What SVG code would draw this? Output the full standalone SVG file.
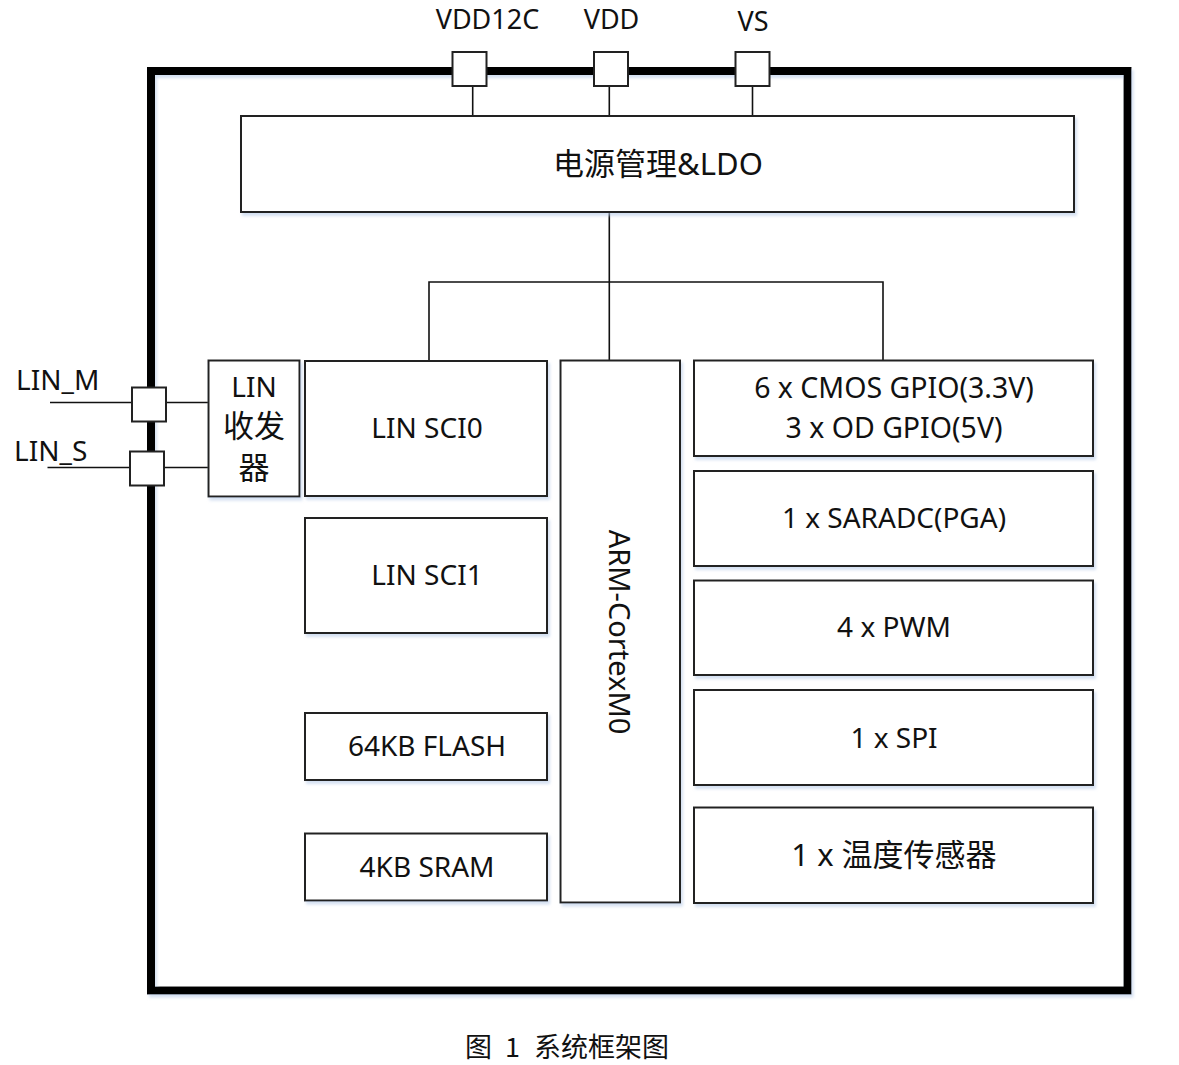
<svg xmlns="http://www.w3.org/2000/svg" width="1179" height="1065" viewBox="0 0 1179 1065">
<style>
.box{fill:#fff;stroke:#222;stroke-width:2}
.pin{fill:#fff;stroke:#222;stroke-width:2}
.wire{fill:none;stroke:#111;stroke-width:1.6}
.t{font-family:"Noto Sans","Noto Sans CJK SC",sans-serif;font-size:28px;fill:#111;text-anchor:middle}
.c{font-size:31px}
.lbl{font-family:"Noto Sans",sans-serif;font-size:27px;fill:#111}
.cap{font-family:"Noto Sans CJK SC",serif;font-size:27px;fill:#111}
</style>
<defs>
<filter id="sh" x="-5%" y="-5%" width="110%" height="115%">
<feDropShadow dx="2" dy="3" stdDeviation="1.5" flood-color="#b8cce8" flood-opacity="0.6"/>
</filter>
</defs>
<rect width="1179" height="1065" fill="#fff"/>
<g id="frame">
<rect x="151" y="71" width="976.5" height="919.5" fill="none" stroke="#000" stroke-width="8" filter="url(#sh)"/>
</g>
<g id="connectors">
<line class="wire" x1="472.7" y1="86" x2="472.7" y2="116"/>
<line class="wire" x1="609.3" y1="86" x2="609.3" y2="116"/>
<line class="wire" x1="752.5" y1="86" x2="752.5" y2="116"/>
<line class="wire" x1="609.3" y1="212" x2="609.3" y2="360"/>
<polyline class="wire" points="429,361 429,282 883,282 883,360"/>
<line class="wire" x1="50" y1="402.5" x2="132" y2="402.5"/>
<line class="wire" x1="166.5" y1="402.5" x2="208" y2="402.5"/>
<line class="wire" x1="47.5" y1="467.5" x2="130" y2="467.5"/>
<line class="wire" x1="164" y1="467.5" x2="208" y2="467.5"/>
</g>
<g id="pin-vdd12c"><rect class="pin" x="452.5" y="52" width="34" height="34"/><text class="lbl" x="487.5" y="29" text-anchor="middle">VDD12C</text></g>
<g id="pin-vdd"><rect class="pin" x="594" y="52" width="34" height="34"/><text class="lbl" x="611.5" y="29" text-anchor="middle">VDD</text></g>
<g id="pin-vs"><rect class="pin" x="735.5" y="52" width="34" height="34"/><text class="lbl" x="753" y="31" text-anchor="middle">VS</text></g>
<g id="pin-lin-m"><rect class="pin" x="132" y="387.5" width="34" height="34"/><text class="lbl" x="16" y="390" style="font-size:28px">LIN_M</text></g>
<g id="pin-lin-s"><rect class="pin" x="130" y="451.5" width="34" height="34"/><text class="lbl" x="14" y="461" style="font-size:28px">LIN_S</text></g>
<g id="power"><rect class="box" x="241" y="116" width="833" height="96" filter="url(#sh)"/><text class="t c" x="658" y="175">电源管理&amp;LDO</text></g>
<g id="lin-xcvr"><rect class="box" x="208.5" y="360.5" width="91" height="136" filter="url(#sh)"/>
<text class="t" x="254" y="397">LIN</text><text class="t c" x="254" y="437">收发</text><text class="t c" x="254" y="479">器</text></g>
<g id="sci0"><rect class="box" x="305" y="361" width="242" height="135" filter="url(#sh)"/><text class="t" x="427" y="438">LIN SCI0</text></g>
<g id="sci1"><rect class="box" x="305" y="518" width="242" height="115" filter="url(#sh)"/><text class="t" x="427" y="585">LIN SCI1</text></g>
<g id="flash"><rect class="box" x="305" y="713" width="242" height="67" filter="url(#sh)"/><text class="t" x="427" y="756">64KB FLASH</text></g>
<g id="sram"><rect class="box" x="305" y="833.5" width="242" height="67" filter="url(#sh)"/><text class="t" x="427" y="877">4KB SRAM</text></g>
<g id="arm"><rect class="box" x="560.5" y="360.5" width="119.5" height="542" filter="url(#sh)"/><text class="t" style="font-size:29px" transform="translate(609,632) rotate(90)">ARM-CortexM0</text></g>
<g id="gpio"><rect class="box" x="694" y="360.5" width="399" height="95.5" filter="url(#sh)"/>
<text class="t" x="894" y="398" style="font-size:28.5px">6 x CMOS GPIO(3.3V)</text><text class="t" x="894" y="438" style="font-size:28.5px">3 x OD GPIO(5V)</text></g>
<g id="adc"><rect class="box" x="694" y="471" width="399" height="95" filter="url(#sh)"/><text class="t" x="894" y="528">1 x SARADC(PGA)</text></g>
<g id="pwm"><rect class="box" x="694" y="580.5" width="399" height="94.5" filter="url(#sh)"/><text class="t" x="894" y="637">4 x PWM</text></g>
<g id="spi"><rect class="box" x="694" y="690" width="399" height="95" filter="url(#sh)"/><text class="t" x="894" y="748">1 x SPI</text></g>
<g id="temp"><rect class="box" x="694" y="807.5" width="399" height="95.5" filter="url(#sh)"/><text class="t c" x="894" y="866">1 x 温度传感器</text></g>
<g id="caption"><text class="cap" x="465" y="1057">图</text><text class="cap" x="505" y="1057">1</text><text class="cap" x="534" y="1057">系统框架图</text></g>
</svg>
